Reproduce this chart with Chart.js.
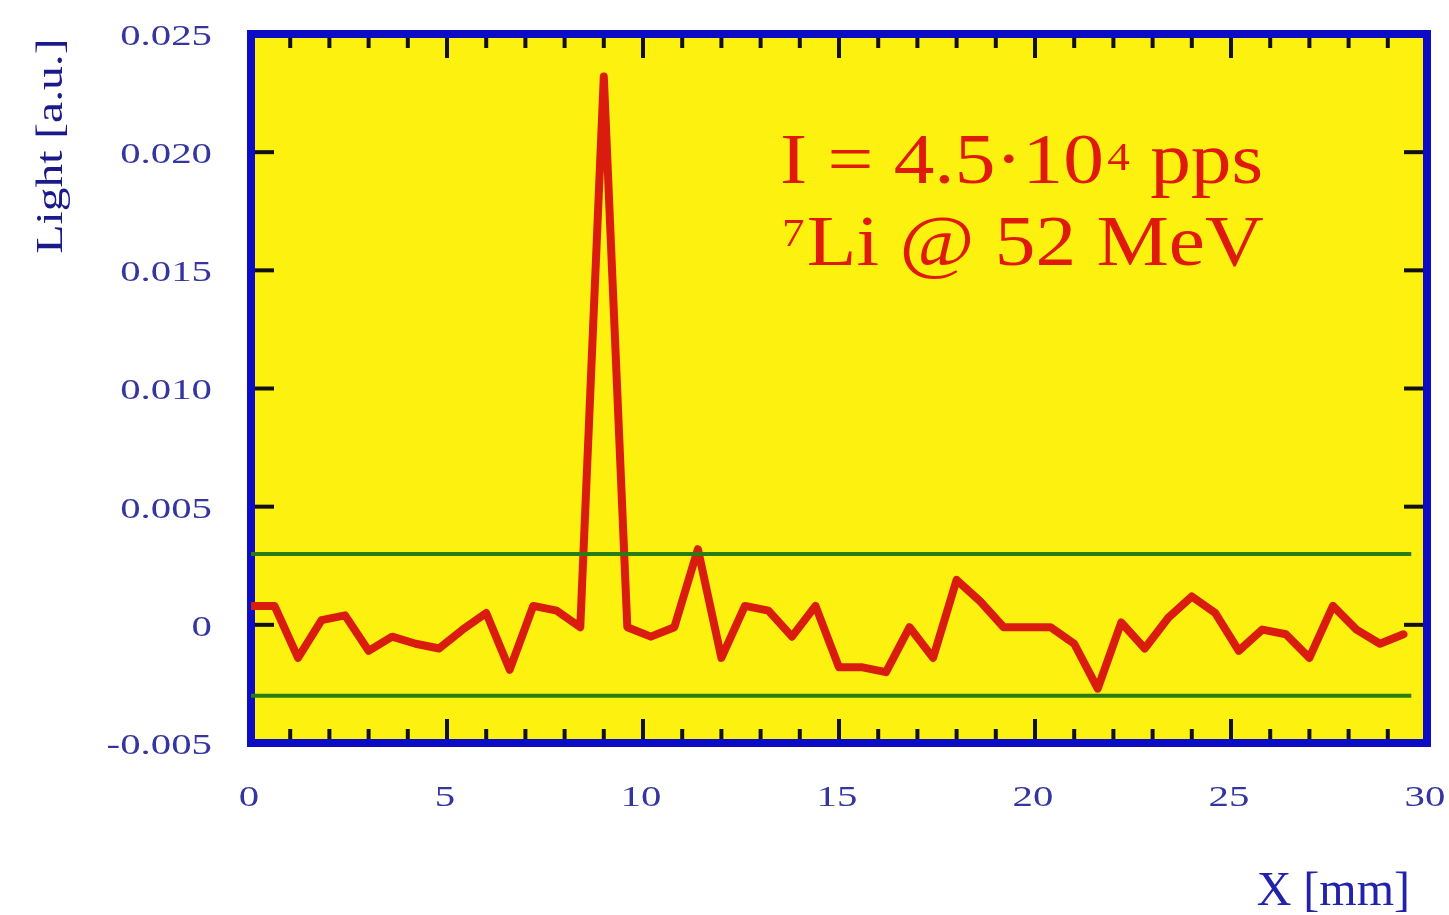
<!DOCTYPE html>
<html>
<head>
<meta charset="utf-8">
<title>Light profile</title>
<script src="https://cdn.jsdelivr.net/npm/chart.js@4.4.1/dist/chart.umd.min.js"></script>
<style>
  html, body { margin: 0; padding: 0; background: #fff; }
  #wrap { width: 1449px; height: 915px; }
</style>
</head>
<body>
<div id="wrap"><canvas id="profile"></canvas></div>
<script>
// beam profile: scintillator light vs. position
const positionMm = [
  0, 0.6, 1.2, 1.8, 2.4, 3.0, 3.6, 4.2, 4.8, 5.4,
  6.0, 6.6, 7.2, 7.8, 8.4, 9.0, 9.6, 10.2, 10.8, 11.4,
  12.0, 12.6, 13.2, 13.8, 14.4, 15.0, 15.6, 16.2, 16.8, 17.4,
  18.0, 18.6, 19.2, 19.8, 20.4, 21.0, 21.6, 22.2, 22.8, 23.4,
  24.0, 24.6, 25.2, 25.8, 26.4, 27.0, 27.6, 28.2, 28.8, 29.4
];
const lightAU = [
  0.0008, 0.0008, -0.0014, 0.0002, 0.0004, -0.0011, -0.0005, -0.0008, -0.0010, -0.0002,
  0.0005, -0.0019, 0.0008, 0.0006, -0.0001, 0.0232, -0.0001, -0.0005, -0.0001, 0.0032,
  -0.0014, 0.0008, 0.0006, -0.0005, 0.0008, -0.0018, -0.0018, -0.0020, -0.0001, -0.0014,
  0.0019, 0.0010, -0.0001, -0.0001, -0.0001, -0.0008, -0.0027, 0.0001, -0.0010, 0.0003,
  0.0012, 0.0005, -0.0011, -0.0002, -0.0004, -0.0014, 0.0008, -0.0002, -0.0008, -0.0004
];

// noise band
const bandX = [0, 29.6];
const bandUpper = [0.003, 0.003];
const bandLower = [-0.003, -0.003];

// axis ticks
const xMajorTicks = [0, 5, 10, 15, 20, 25, 30];
const xTickLabels = ['0', '5', '10', '15', '20', '25', '30'];
const yTicks = [0.025, 0.020, 0.015, 0.010, 0.005, 0, -0.005];
const yTickLabels = ['0.025', '0.020', '0.015', '0.010', '0.005', '0', '-0.005'];

const SERIF = "'Liberation Serif', 'Times New Roman', serif";
const PLOT_BG = '#fdf10f';
const FRAME_BLUE = '#0c0cc4';
const LINE_RED = '#d91c0e';
const BAND_GREEN = '#2a7d12';
const LABEL_BLUE = '#35359f';

function stretchedText(ctx, text, x, y, align, sx) {
  ctx.save();
  ctx.translate(x, y);
  ctx.scale(sx, 1);
  ctx.textAlign = align;
  ctx.fillText(text, 0, 0);
  ctx.restore();
}

function seg(ctx, x1, y1, x2, y2) {
  ctx.beginPath();
  ctx.moveTo(x1, y1);
  ctx.lineTo(x2, y2);
  ctx.stroke();
}

const framePlugin = {
  id: 'frame',
  beforeDatasetsDraw(chart) {
    const { ctx, chartArea: a, scales: { x, y } } = chart;
    ctx.save();
    ctx.fillStyle = PLOT_BG;
    ctx.fillRect(a.left, a.top, a.right - a.left, a.bottom - a.top);

    // inward ticks, minor every mm
    ctx.strokeStyle = '#111';
    ctx.lineWidth = 4;
    for (let v = 0; v <= 30; v++) {
      const px = x.getPixelForValue(v);
      const len = xMajorTicks.includes(v) ? 24 : 14;
      seg(ctx, px, a.bottom, px, a.bottom - len);
      seg(ctx, px, a.top, px, a.top + len);
    }
    yTicks.forEach(v => {
      const py = y.getPixelForValue(v);
      seg(ctx, a.left, py, a.left + 23, py);
      seg(ctx, a.right, py, a.right - 23, py);
    });

    ctx.strokeStyle = FRAME_BLUE;
    ctx.lineWidth = 8;
    ctx.strokeRect(a.left, a.top, a.right - a.left, a.bottom - a.top);
    ctx.restore();
  },
  afterDraw(chart) {
    const { ctx, scales: { x, y } } = chart;
    ctx.save();
    ctx.fillStyle = LABEL_BLUE;
    ctx.textBaseline = 'middle';
    ctx.font = `30px ${SERIF}`;
    yTicks.forEach((v, i) => {
      stretchedText(ctx, yTickLabels[i], 212, y.getPixelForValue(v) + 3, 'right', 1.36);
    });
    xMajorTicks.forEach((v, i) => {
      stretchedText(ctx, xTickLabels[i], x.getPixelForValue(v) - 2, 798, 'center', 1.36);
    });

    // axis titles
    ctx.fillStyle = '#1a1a8a';
    ctx.font = `38px ${SERIF}`;
    ctx.save();
    ctx.translate(52, 146);
    ctx.rotate(-Math.PI / 2);
    stretchedText(ctx, 'Light [a.u.]', 0, 0, 'center', 1.25);
    ctx.restore();

    ctx.fillStyle = '#2222aa';
    ctx.font = `48px ${SERIF}`;
    ctx.textBaseline = 'alphabetic';
    ctx.textAlign = 'right';
    ctx.fillText('X [mm]', 1410, 905);

    // beam info
    ctx.fillStyle = '#e01a0a';
    const big = `72px ${SERIF}`;
    const sup = `40px ${SERIF}`;
    const sx = 1.13;
    let cx = 780;
    ctx.font = big;
    stretchedText(ctx, 'I = 4.5\u00b710', cx, 183, 'left', sx);
    cx += (ctx.measureText('I = 4.5\u00b710').width + 3) * sx;
    ctx.font = sup;
    stretchedText(ctx, '4', cx, 170, 'left', sx);
    cx += ctx.measureText('4').width * sx;
    ctx.font = big;
    stretchedText(ctx, ' pps', cx, 183, 'left', sx);

    cx = 782;
    ctx.font = sup;
    stretchedText(ctx, '7', cx, 246, 'left', sx);
    cx += (ctx.measureText('7').width + 2) * sx;
    ctx.font = big;
    stretchedText(ctx, 'Li @ 52 MeV', cx, 265, 'left', sx);
    ctx.restore();
  }
};

new Chart(document.getElementById('profile'), {
  type: 'line',
  data: {
    datasets: [
      {
        data: positionMm.map((v, i) => ({ x: v, y: lightAU[i] })),
        borderColor: LINE_RED,
        borderWidth: 8,
        borderJoinStyle: 'round',
        borderCapStyle: 'round',
        pointRadius: 0,
        tension: 0,
        order: 1
      },
      {
        data: bandX.map((v, i) => ({ x: v, y: bandUpper[i] })),
        borderColor: BAND_GREEN,
        borderWidth: 4,
        pointRadius: 0,
        order: 0
      },
      {
        data: bandX.map((v, i) => ({ x: v, y: bandLower[i] })),
        borderColor: BAND_GREEN,
        borderWidth: 4,
        pointRadius: 0,
        order: 0
      }
    ]
  },
  options: {
    responsive: true,
    maintainAspectRatio: false,
    animation: false,
    devicePixelRatio: 1,
    layout: { padding: { left: 251, right: 22, top: 34, bottom: 172 } },
    plugins: {
      legend: { display: false },
      tooltip: { enabled: false }
    },
    scales: {
      x: { type: 'linear', min: 0, max: 30, display: false },
      y: { type: 'linear', min: -0.005, max: 0.025, display: false }
    }
  },
  plugins: [framePlugin]
});
</script>
</body>
</html>
